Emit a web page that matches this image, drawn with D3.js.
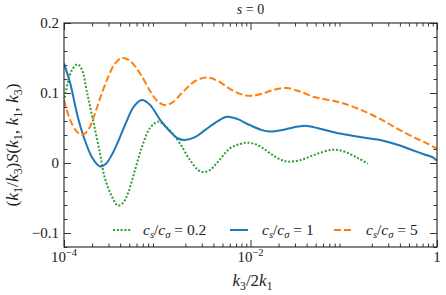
<!DOCTYPE html>
<html>
<head>
<meta charset="utf-8">
<script src="https://cdn.jsdelivr.net/npm/d3@7"></script>
<style>
  html, body { margin: 0; padding: 0; background: #fff; }
</style>
</head>
<body>
<div id="chart"></div>
<script>
// k3/2k1 and (k1/k3) S values
var xGreen = [1.0e-4, 1.10e-4, 1.22e-4, 1.40e-4, 1.56e-4, 1.77e-4, 2.05e-4, 2.43e-4, 2.75e-4, 3.27e-4,
              3.79e-4, 4.29e-4, 4.86e-4, 5.77e-4, 6.86e-4, 8.36e-4, 1.02e-3, 1.21e-3, 1.44e-3, 1.75e-3,
              2.25e-3, 2.74e-3, 3.09e-3, 3.68e-3, 4.37e-3, 6.03e-3, 7.72e-3, 9.17e-3, 1.12e-2, 1.33e-2,
              1.74e-2, 2.18e-2, 2.52e-2, 3.40e-2, 4.92e-2, 7.67e-2, 0.103, 0.142, 0.182];
var yGreen = [0.088, 0.115, 0.133, 0.141, 0.133, 0.100, 0.061, 0.014, -0.022, -0.048,
              -0.061, -0.057, -0.043, -0.010, 0.023, 0.050, 0.059, 0.053, 0.043, 0.028,
              0.004, -0.010, -0.013, -0.010, 0.000, 0.021, 0.027, 0.029, 0.027, 0.022,
              0.011, 0.004, 0.002, 0.004, 0.012, 0.019, 0.016, 0.007, -0.001];

var xBlue = [1.0e-4, 1.16e-4, 1.41e-4, 1.64e-4, 2.0e-4, 2.43e-4, 2.82e-4, 3.27e-4, 3.79e-4, 4.74e-4,
             5.63e-4, 6.86e-4, 8.36e-4, 1.07e-3, 1.37e-3, 1.67e-3, 1.98e-3, 2.54e-3, 3.25e-3, 4.37e-3,
             5.60e-3, 7.17e-3, 9.88e-3, 1.33e-2, 1.62e-2, 2.34e-2, 3.23e-2, 4.04e-2, 5.56e-2, 9.12e-2,
             0.149, 0.245, 0.401, 0.581, 0.781, 0.906, 1.0];
var yBlue = [0.142, 0.115, 0.065, 0.036, 0.008, -0.005, -0.001, 0.012, 0.030, 0.061,
             0.081, 0.090, 0.083, 0.062, 0.045, 0.035, 0.033, 0.037, 0.047, 0.059,
             0.066, 0.063, 0.054, 0.047, 0.045, 0.048, 0.052, 0.053, 0.049, 0.042,
             0.037, 0.033, 0.025, 0.017, 0.011, 0.008, 0.003];

var xOrange = [1.0e-4, 1.16e-4, 1.35e-4, 1.56e-4, 1.81e-4, 2.10e-4, 2.43e-4, 2.96e-4, 3.52e-4, 4.19e-4,
               5.10e-4, 6.53e-4, 8.36e-4, 9.94e-4, 1.18e-3, 1.44e-3, 1.84e-3, 2.54e-3, 3.42e-3, 4.48e-3,
               6.33e-3, 8.52e-3, 1.04e-2, 1.33e-2, 1.83e-2, 2.46e-2, 3.40e-2, 4.92e-2, 7.67e-2, 0.117,
               0.178, 0.245, 0.313, 0.401, 0.581, 0.781, 1.0];
var yOrange = [0.090, 0.062, 0.046, 0.040, 0.047, 0.067, 0.092, 0.122, 0.142, 0.150,
               0.146, 0.128, 0.103, 0.089, 0.083, 0.086, 0.100, 0.117, 0.122, 0.117,
               0.104, 0.097, 0.096, 0.099, 0.105, 0.107, 0.102, 0.094, 0.089, 0.082,
               0.072, 0.063, 0.055, 0.047, 0.036, 0.028, 0.020];

var series = [
  { label: '0.2', xs: xGreen,  ys: yGreen,  color: '#2ca02c', dash: '2,1.8' },
  { label: '1',   xs: xBlue,   ys: yBlue,   color: '#1f77b4', dash: null },
  { label: '5',   xs: xOrange, ys: yOrange, color: '#ff7f0e', dash: '7,3' }
];

var yTicks = [-0.1, 0, 0.1, 0.2],
    yTickLabels = ['\u22120.1', '0', '0.1', '0.2'],
    xMajor = [1e-4, 1e-2, 1],
    xLabelExp = ['\u22124', '\u22122', ''];

var FONT = 'Liberation Serif';

var width = 446, height = 295,
    margin = { top: 23, right: 9, bottom: 48, left: 64 },
    innerW = width - margin.left - margin.right,
    innerH = height - margin.top - margin.bottom;

var x = d3.scaleLog().domain([1e-4, 1]).range([0, innerW]),
    y = d3.scaleLinear().domain([-0.12, 0.2]).range([innerH, 0]);

var svg = d3.select('#chart').append('svg')
    .attr('width', width)
    .attr('height', height)
    .attr('font-family', FONT);

var g = svg.append('g')
    .attr('transform', 'translate(' + margin.left + ',' + margin.top + ')');

g.append('defs').append('clipPath').attr('id', 'clip')
  .append('rect').attr('width', innerW).attr('height', innerH);

// minor ticks: 2..9 in every decade, none on the unlabelled decades
var xMinor = [];
for (var e = -4; e < 0; e++) {
  for (var m = 2; m <= 9; m++) xMinor.push(m * Math.pow(10, e));
}
var yMinor = d3.range(-0.12, 0.2001, 0.02).map(function(v) { return +v.toFixed(2); })
    .filter(function(v) { return yTicks.indexOf(v) < 0; });

function tickAxis(axis, values, size) {
  return axis.tickValues(values).tickSizeInner(size).tickSizeOuter(0).tickFormat('');
}

var axes = [
  [d3.axisBottom(x), 'translate(0,' + innerH + ')', xMajor, xMinor],
  [d3.axisTop(x), 'translate(0,0)', xMajor, xMinor],
  [d3.axisLeft(y), 'translate(0,0)', yTicks, yMinor],
  [d3.axisRight(y), 'translate(' + innerW + ',0)', yTicks, yMinor]
];
axes.forEach(function(a) {
  [[a[2], -7], [a[3], -3.5]].forEach(function(t) {
    var ax = g.append('g').attr('transform', a[1])
        .call(tickAxis(a[0], t[0], t[1]));
    ax.select('.domain').remove();
    ax.selectAll('line').attr('stroke', '#222').attr('stroke-width', 0.9);
  });
});

// lines
var line = d3.line()
    .x(function(d) { return x(d[0]); })
    .y(function(d) { return y(d[1]); })
    .curve(d3.curveCatmullRom.alpha(0.5));

var plot = g.append('g').attr('clip-path', 'url(#clip)');
series.forEach(function(s) {
  var pts = s.xs.map(function(v, i) { return [v, s.ys[i]]; });
  plot.append('path')
    .datum(pts)
    .attr('d', line)
    .attr('fill', 'none')
    .attr('stroke', s.color)
    .attr('stroke-width', 2)
    .attr('stroke-dasharray', s.dash);
});

// frame
g.append('rect')
  .attr('width', innerW).attr('height', innerH)
  .attr('fill', 'none').attr('stroke', '#222').attr('stroke-width', 1.1);

function txt(parent, size) {
  return parent.append('text')
    .attr('font-family', FONT)
    .attr('font-size', size)
    .attr('fill', '#222');
}

// y tick labels
yTicks.forEach(function(v, i) {
  txt(g, 15).attr('x', -5)
    .attr('y', y(v))
    .attr('dy', '0.35em')
    .attr('text-anchor', 'end')
    .text(yTickLabels[i]);
});

// x tick labels
xMajor.forEach(function(v, i) {
  var t = txt(g, 15)
    .attr('x', x(v))
    .attr('y', innerH + 15)
    .attr('text-anchor', 'middle');
  if (xLabelExp[i]) {
    t.append('tspan').text('10');
    t.append('tspan').attr('dy', -6).attr('font-size', 10.5).text(xLabelExp[i]);
  } else {
    t.text('1');
  }
});

// math text helper
function mathText(sel, parts, base) {
  parts.forEach(function(p) {
    var ts = sel.append('tspan').text(p.t);
    if (p.i) ts.attr('font-style', 'italic');
    if (p.sub) ts.attr('dy', p.sub);
    ts.attr('font-size', p.s ? base * 0.68 : base);
  });
  return sel;
}

// x label
mathText(txt(svg, 17)
    .attr('x', margin.left + x(1e-2) + 2)
    .attr('y', 286)
    .attr('text-anchor', 'middle'),
  [{ t: 'k', i: 1 }, { t: '3', sub: 4, s: 1 }, { t: '/2', sub: -4 },
   { t: 'k', i: 1 }, { t: '1', sub: 4, s: 1 }], 17);

// y label
mathText(txt(svg, 17.5)
    .attr('transform', 'translate(18,' + (margin.top + innerH / 2 + 10) + ') rotate(-90)')
    .attr('text-anchor', 'middle'),
  [{ t: '(' }, { t: 'k', i: 1 }, { t: '1', sub: 4, s: 1 }, { t: '/', sub: -4 },
   { t: 'k', i: 1 }, { t: '3', sub: 4, s: 1 }, { t: ')', sub: -4 },
   { t: 'S', i: 1 }, { t: '(' }, { t: 'k', i: 1 }, { t: '1', sub: 4, s: 1 }, { t: ', ', sub: -4 },
   { t: 'k', i: 1 }, { t: '1', sub: 4, s: 1 }, { t: ', ', sub: -4 },
   { t: 'k', i: 1 }, { t: '3', sub: 4, s: 1 }, { t: ')', sub: -4 }], 17.5);

// title
mathText(txt(svg, 14)
    .attr('x', margin.left + x(1e-2))
    .attr('y', 14)
    .attr('text-anchor', 'middle'),
  [{ t: 's', i: 1 }, { t: ' = 0' }], 14);

// legend
var legendX = [113, 230, 334], legendTextX = [143, 262, 366], legendY = 231;
series.forEach(function(s, i) {
  svg.append('line')
    .attr('x1', legendX[i]).attr('x2', legendX[i] + 18)
    .attr('y1', legendY - 1).attr('y2', legendY - 1)
    .attr('stroke', s.color).attr('stroke-width', 2)
    .attr('stroke-dasharray', s.dash);
  mathText(txt(svg, 15.5)
      .attr('x', legendTextX[i]).attr('y', legendY + 4),
    [{ t: 'c', i: 1 }, { t: 's', i: 1, sub: 3, s: 1 }, { t: '/', sub: -3 },
     { t: 'c', i: 1 }, { t: '\u03c3', i: 1, sub: 3, s: 1 }, { t: ' = ' + s.label, sub: -3 }], 15.5);
});
</script>
</body>
</html>
